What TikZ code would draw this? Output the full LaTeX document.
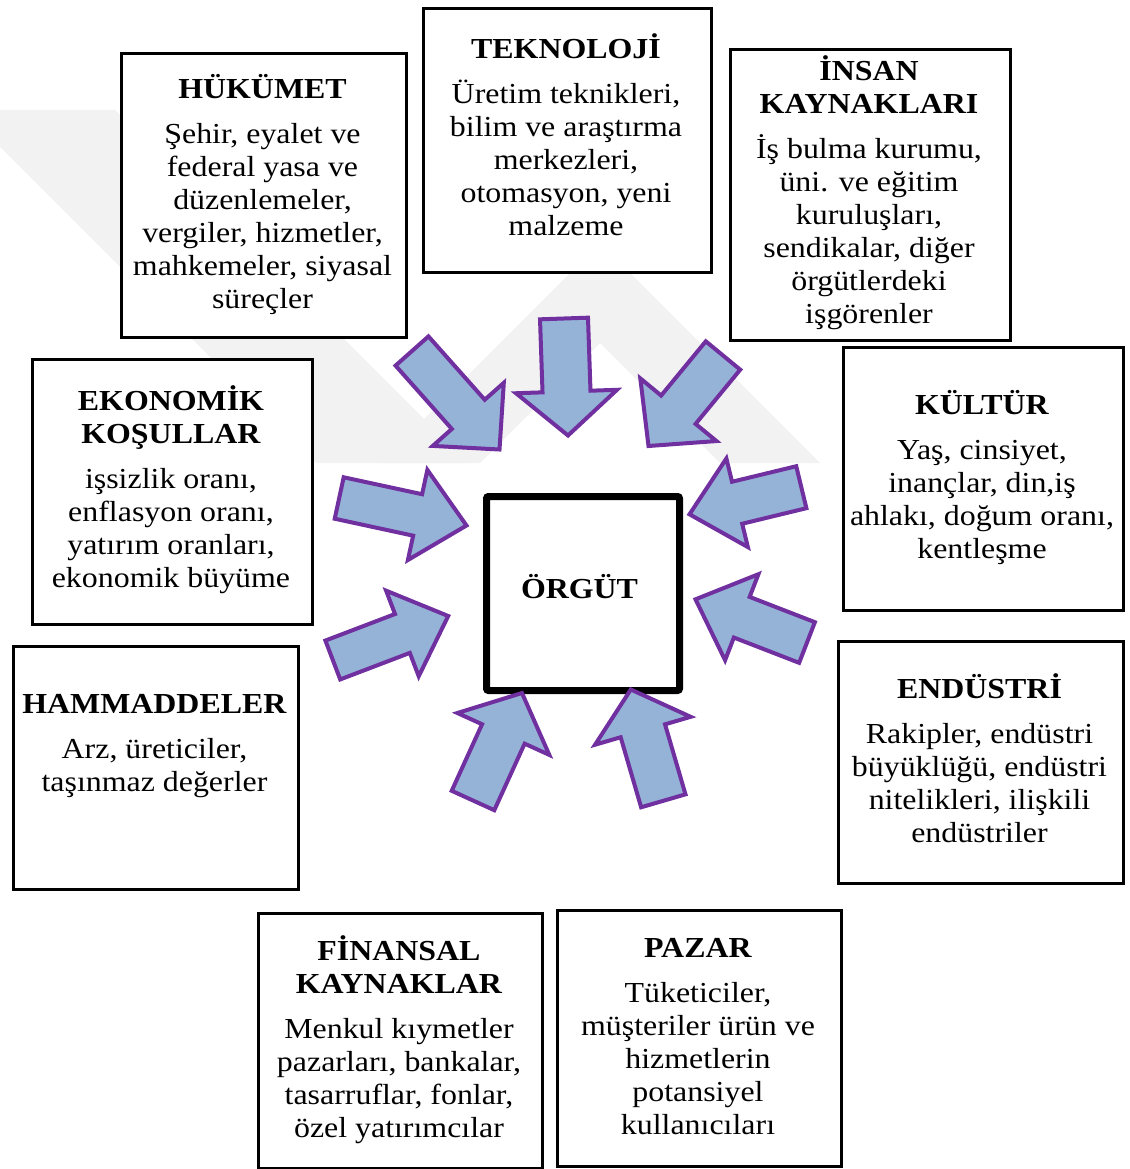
\documentclass[tikz,border=0pt]{standalone}
\usepackage{fontspec}
\setmainfont{Liberation Serif}[FakeStretch=1.10]
\usetikzlibrary{calc}

\definecolor{arrowfill}{HTML}{95B3D7}
\definecolor{arrowline}{HTML}{7030A0}
\definecolor{mark}{HTML}{F2F2F2}

\tikzset{
  frame/.style={draw=black, line width=3pt, fill=white, inner sep=0pt, anchor=north west},
  core/.style={draw=black, line width=7pt, fill=white, rounded corners=2pt, inner sep=0pt, anchor=north west},
  caption/.style={align=center, inner sep=0pt, anchor=north, font=\fontsize{29}{33}\selectfont},
  blockarrow/.style={draw=arrowline, fill=arrowfill, line width=4pt, line join=miter},
  band/.style={fill=mark, draw=none},
}

% block arrow from tail centre #1 to tip #2;
% #3 shaft half width, #4 head half width, #5 head length
\newcommand\inflow[5]{%
  \coordinate (hb) at ($(#2)!#5!(#1)$);
  \draw[blockarrow]
    ($(#1)!#3!90:(#2)$) -- ($(hb)!#3!90:(#2)$) -- ($(hb)!#4!90:(#2)$) -- (#2)
    -- ($(hb)!#4!-90:(#2)$) -- ($(hb)!#3!-90:(#2)$) -- ($(#1)!#3!-90:(#2)$) -- cycle;
}
% first line of every caption gets the same height
\newcommand\topline{\rule{0pt}{27pt}}

\begin{document}
\begin{tikzpicture}[x=1pt, y=-1pt]
  \useasboundingbox (0,0) rectangle (1129,1169);

  % ---- faint background bands ----
  \fill[band] (0,110) -- (115,110) -- (468,463) -- (316,463) -- (0,147) -- cycle;
  \fill[band] (380,463) -- (600,243) -- (820,463) -- (720,463) -- (600,343) -- (480,463) -- cycle;

  % ---- outer boxes ----
  \node[frame, minimum width=285pt, minimum height=284pt] (govbox)  at (120,52)  {};
  \node[frame, minimum width=288pt, minimum height=264pt] (techbox) at (422,7)   {};
  \node[frame, minimum width=280pt, minimum height=291pt] (hrbox)   at (729,48)  {};
  \node[frame, minimum width=280pt, minimum height=265pt] (ecobox)  at (31,358)  {};
  \node[frame, minimum width=280pt, minimum height=263pt] (cultbox) at (842,346)  {};
  \node[frame, minimum width=285pt, minimum height=243pt] (rawbox)  at (12,645)  {};
  \node[frame, minimum width=285pt, minimum height=242pt] (indbox)  at (837,640) {};
  \node[frame, minimum width=284pt, minimum height=255pt] (finbox)  at (257,912) {};
  \node[frame, minimum width=284pt, minimum height=256pt] (mktbox)  at (556,909) {};

  % ---- captions ----
  \node[caption] (govtxt) at (262.5,71) {\topline\textbf{HÜKÜMET}\\[12pt]
    Şehir, eyalet ve\\ federal yasa ve\\ düzenlemeler,\\ vergiler, hizmetler,\\ mahkemeler, siyasal\\ süreçler};
  \node[caption] (techtxt) at (566,31) {\topline\textbf{TEKNOLOJİ}\\[12pt]
    Üretim teknikleri,\\ bilim ve araştırma\\ merkezleri,\\ otomasyon, yeni\\ malzeme};
  \node[caption] (hrtxt) at (869,53) {\topline\textbf{İNSAN}\\ \textbf{KAYNAKLARI}\\[12pt]
    İş bulma kurumu,\\ üni. ve eğitim\\ kuruluşları,\\ sendikalar, diğer\\ örgütlerdeki\\ işgörenler};
  \node[caption] (ecotxt) at (171,383) {\topline\textbf{EKONOMİK}\\ \textbf{KOŞULLAR}\\[12pt]
    işsizlik oranı,\\ enflasyon oranı,\\ yatırım oranları,\\ ekonomik büyüme};
  \node[caption] (culttxt) at (982,387) {\topline\textbf{KÜLTÜR}\\[12pt]
    Yaş, cinsiyet,\\ inançlar, din,iş\\ ahlakı, doğum oranı,\\ kentleşme};
  \node[caption] (rawtxt) at (154.5,686) {\topline\textbf{HAMMADDELER}\\[12pt]
    Arz, üreticiler,\\ taşınmaz değerler};
  \node[caption] (indtxt) at (979.5,671) {\topline\textbf{ENDÜSTRİ}\\[12pt]
    Rakipler, endüstri\\ büyüklüğü, endüstri\\ nitelikleri, ilişkili\\ endüstriler};
  \node[caption] (fintxt) at (399,933) {\topline\textbf{FİNANSAL}\\ \textbf{KAYNAKLAR}\\[12pt]
    Menkul kıymetler\\ pazarları, bankalar,\\ tasarruflar, fonlar,\\ özel yatırımcılar};
  \node[caption] (mkttxt) at (698,930) {\topline\textbf{PAZAR}\\[12pt]
    Tüketiciler,\\ müşteriler ürün ve\\ hizmetlerin\\ potansiyel\\ kullanıcıları};

  % ---- centre ----
  \node[core, minimum width=193pt, minimum height=194pt] (orgbox) at (483,493) {};
  \node[caption, anchor=base] (orgtxt) at (579.5,598) {\textbf{ÖRGÜT}};

  % ---- arrow ends ----
  \coordinate (govT)  at (412,351);   \coordinate (govP)  at (499.5,449.5);
  \coordinate (techT) at (564,318.5); \coordinate (techP) at (568,435.5);
  \coordinate (hrT)   at (723,355.5); \coordinate (hrP)   at (648.5,446);
  \coordinate (ecoT)  at (339.2,498); \coordinate (ecoP)  at (466.5,525.5);
  \coordinate (rawT)  at (332.8,660); \coordinate (rawP)  at (448.2,616);
  \coordinate (finT)  at (473,800.5); \coordinate (finP)  at (522,693);
  \coordinate (mktT)  at (663.3,800.8); \coordinate (mktP) at (630.8,689.5);
  \coordinate (indT)  at (807,642.5); \coordinate (indP)  at (695.5,599.3);
  \coordinate (cultT) at (801.3,487.2); \coordinate (cultP) at (689.5,514.3);

  % ---- arrows towards the organisation ----
  \inflow{govT}{govP}{22pt}{47.5pt}{47pt}
  \inflow{techT}{techP}{24pt}{50.5pt}{44pt}
  \inflow{hrT}{hrP}{22.3pt}{49.3pt}{47pt}
  \inflow{ecoT}{ecoP}{21.2pt}{46.1pt}{50pt}
  \inflow{rawT}{rawP}{20.8pt}{45.8pt}{49pt}
  \inflow{finT}{finP}{23.4pt}{50.5pt}{45pt}
  \inflow{mktT}{mktP}{23.1pt}{49.8pt}{43pt}
  \inflow{indT}{indP}{21.8pt}{46.1pt}{49.6pt}
  \inflow{cultT}{cultP}{21.6pt}{45.6pt}{49pt}
\end{tikzpicture}
\end{document}
